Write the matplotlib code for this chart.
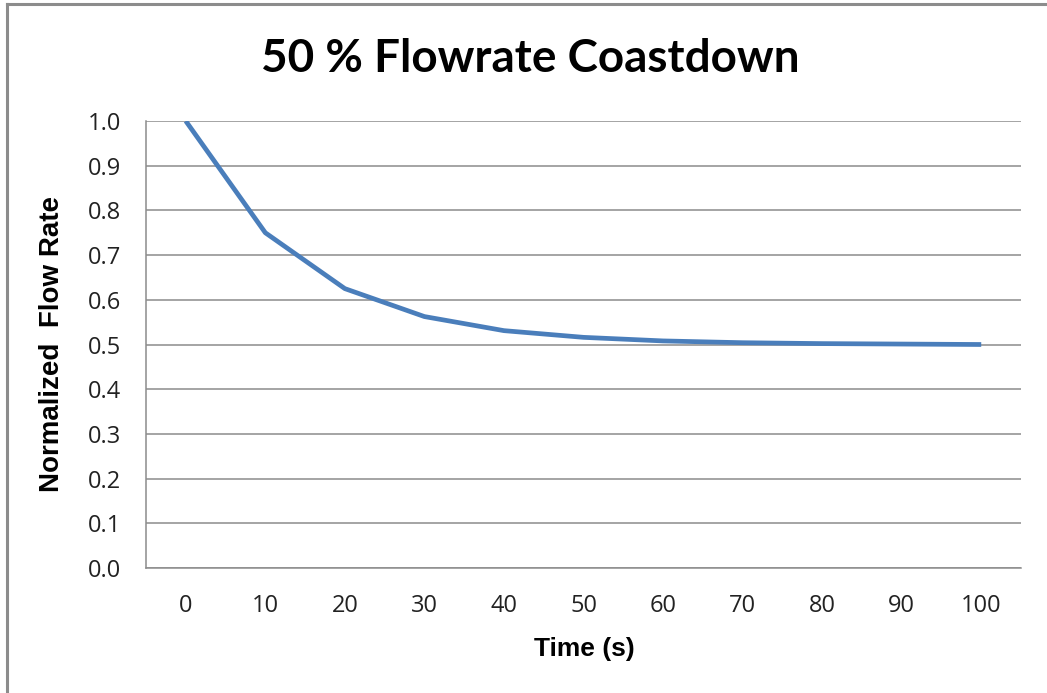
import matplotlib
matplotlib.use("Agg")
import matplotlib.pyplot as plt
from matplotlib.lines import Line2D

# Coastdown data
time_s = [0, 10, 20, 30, 40, 50, 60, 70, 80, 90, 100]
flow_norm = [1.0, 0.75, 0.625, 0.5625, 0.531, 0.516, 0.508, 0.504, 0.502, 0.501, 0.5]
y_ticks = [0.0, 0.1, 0.2, 0.3, 0.4, 0.5, 0.6, 0.7, 0.8, 0.9, 1.0]

W, H = 1047, 693
fig = plt.figure(figsize=(W / 100, H / 100), dpi=100)
fig.patch.set_facecolor("white")

ax_left, ax_right, ax_top, ax_bottom = 146, 1021, 121, 568
ax = fig.add_axes([ax_left / W, 1 - ax_bottom / H,
                   (ax_right - ax_left) / W, (ax_bottom - ax_top) / H])

pos = list(range(len(time_s)))
ax.plot(pos, flow_norm, color="#4A7EBB", linewidth=3.4, solid_capstyle="butt",
        solid_joinstyle="round", zorder=3)

ax.set_xlim(-0.5, len(time_s) - 0.5)
ax.set_ylim(0.0, 1.0)
ax.set_yticks(y_ticks)
ax.set_yticklabels([f"{v:.1f}" for v in y_ticks])
ax.set_xticks(pos)
ax.set_xticklabels([str(t) for t in time_s])

grid_color = "#8C8C8C"
ax.yaxis.grid(True, color=grid_color, linewidth=1.1)
ax.set_axisbelow(True)
for side in ("top", "right"):
    ax.spines[side].set_visible(False)
for side in ("left", "bottom"):
    ax.spines[side].set_color(grid_color)
    ax.spines[side].set_linewidth(1.1)

ax.tick_params(axis="both", length=0, labelsize=17, colors="#222222")
ax.tick_params(axis="y", pad=18)
ax.tick_params(axis="x", pad=19)
for lab in ax.get_xticklabels() + ax.get_yticklabels():
    lab.set_family(["Open Sans", "DejaVu Sans"])

ax.set_xlabel("Time (s)", fontsize=19, fontweight="bold",
              family=["Liberation Sans", "DejaVu Sans"])
ax.set_ylabel("Normalized  Flow Rate", fontsize=20, fontweight="bold",
              family=["Liberation Sans", "DejaVu Sans"])
span_x = ax_right - ax_left
span_y = ax_bottom - ax_top
ax.xaxis.set_label_coords(0.5 + (584 - (ax_left + ax_right) / 2) / span_x,
                          (ax_bottom - 637) / span_y)
ax.yaxis.set_label_coords((65 - ax_left) / span_x, (ax_bottom - 344) / span_y)

fig.text(530 / W, 1 - 59 / H, "50 % Flowrate Coastdown", ha="center", va="center",
         fontsize=33, fontweight="bold", family=["Lato", "DejaVu Sans"])

# Outer chart frame (left and top edges)
frame_kw = dict(color="#8C8C8C", linewidth=2.2, transform=fig.transFigure)
fig.add_artist(Line2D([7 / W, 7 / W], [0, 1 - 4 / H], **frame_kw))
fig.add_artist(Line2D([7 / W, 1.0], [1 - 4 / H, 1 - 4 / H], **frame_kw))

fig.savefig("out.png", dpi=100, facecolor="white")
